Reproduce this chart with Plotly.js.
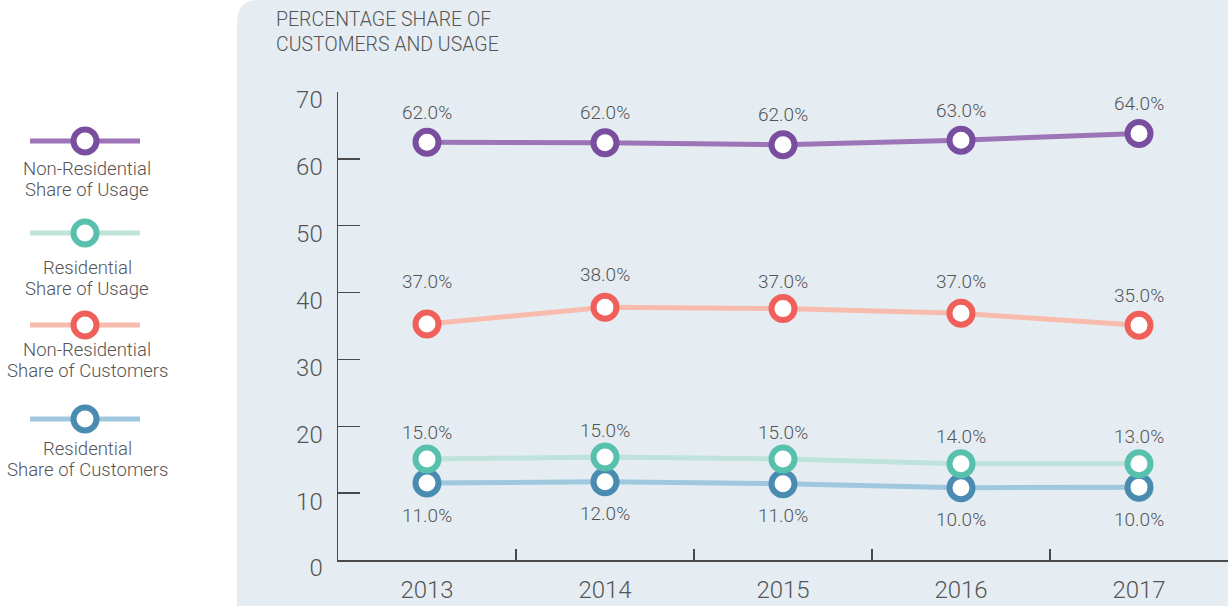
<!DOCTYPE html>
<html>
<head>
<meta charset="utf-8">
<script src="https://cdn.plot.ly/plotly-3.0.1.min.js"></script>
<style>
  html, body { margin: 0; padding: 0; background: #ffffff; }
  #chart { width: 1228px; height: 606px; }
</style>
</head>
<body>
<div id="chart"></div>
<script>
// ---------------- DATA ----------------
const years = ['2013', '2014', '2015', '2016', '2017'];

const nonResUsageName = ['Non-Residential', 'Share of Usage'];
const nonResUsage = [62.5, 62.4, 62.1, 62.8, 63.8];
const nonResUsageLabels = ['62.0%', '62.0%', '62.0%', '63.0%', '64.0%'];

const resUsageName = ['Residential', 'Share of Usage'];
const resUsage = [15.1, 15.4, 15.1, 14.4, 14.4];
const resUsageLabels = ['15.0%', '15.0%', '15.0%', '14.0%', '13.0%'];

const nonResCustName = ['Non-Residential', 'Share of Customers'];
const nonResCust = [35.3, 37.8, 37.6, 36.9, 35.1];
const nonResCustLabels = ['37.0%', '38.0%', '37.0%', '37.0%', '35.0%'];

const resCustName = ['Residential', 'Share of Customers'];
const resCust = [11.5, 11.7, 11.4, 10.8, 10.9];
const resCustLabels = ['11.0%', '12.0%', '11.0%', '10.0%', '10.0%'];

const yTicks = [0, 10, 20, 30, 40, 50, 60, 70];
const chartTitle = 'PERCENTAGE SHARE OF<br>CUSTOMERS AND USAGE';

// ---------------- STYLE ----------------
const FONT = 'Roboto, "Liberation Sans", Arial, sans-serif';
const TEXT = '#555555';
const AXIS = '#4a4a4a';
const W = 1228, H = 606;
const M = { l: 338, r: 0, t: 92, b: 46 };
const plotW = W - M.l - M.r, plotH = H - M.t - M.b;
const px2x = px => (px - M.l) / plotW;
const py2y = py => (H - M.b - py) / plotH;

const series = [
  { name: nonResUsageName, y: nonResUsage, labels: nonResUsageLabels, line: '#9d74b6', mark: '#7a4e9f', shift: 30, labelFromText: false, legendY: 141, legendTextY: 169 },
  { name: resUsageName, y: resUsage, labels: resUsageLabels, line: '#bfe3da', mark: '#58c1ad', shift: 27, labelFromText: false, legendY: 233, legendTextY: 268 },
  { name: nonResCustName, y: nonResCust, labels: nonResCustLabels, line: '#f8bcaf', mark: '#f0605a', shift: 31, labelFromText: true, legendY: 325, legendTextY: 350 },
  { name: resCustName, y: resCust, labels: resCustLabels, line: '#9fc7dd', mark: '#4a8bb1', shift: -32, labelFromText: false, legendY: 419, legendTextY: 449 }
];

// draw order: purple, red, blue, teal (teal sits over blue)
const drawOrder = [0, 2, 3, 1];

const traces = drawOrder.map(i => {
  const s = series[i];
  return {
    type: 'scatter',
    mode: 'lines+markers',
    x: years,
    y: s.y,
    name: s.name.join(' '),
    line: { color: s.line, width: 5 },
    marker: { size: 23, color: '#ffffff', line: { color: s.mark, width: 6 } },
    cliponaxis: false,
    hoverinfo: 'x+y+name'
  };
});

const annotations = [];
series.forEach(s => {
  years.forEach((yr, j) => {
    const yv = s.labelFromText ? parseFloat(s.labels[j]) : s.y[j];
    annotations.push({
      xref: 'x', yref: 'y', x: j, y: yv,   // category index of years[j]
      text: s.labels[j], showarrow: false,
      xanchor: 'center', yanchor: 'middle', yshift: s.shift,
      font: { family: FONT, size: 19, color: TEXT, weight: 300 }
    });
  });
});

// chart title
annotations.push({
  xref: 'paper', yref: 'paper', x: px2x(274), y: py2y(32),
  text: chartTitle, showarrow: false, align: 'left',
  xanchor: 'left', yanchor: 'middle',
  font: { family: FONT, size: 19.5, color: TEXT, weight: 300 }
});

// background panel with rounded top-left corner
const bx0 = px2x(237), bx1 = px2x(W + 2), byT = py2y(0), byB = py2y(H + 2);
const rx = 22 / plotW, ry = 22 / plotH;
const shapes = [{
  type: 'path', xref: 'paper', yref: 'paper', layer: 'below',
  path: `M ${bx0},${byB} L ${bx0},${byT - ry} Q ${bx0},${byT} ${bx0 + rx},${byT} L ${bx1},${byT} L ${bx1},${byB} Z`,
  fillcolor: '#e5edf3', line: { width: 0 }
}];

// custom legend (line sample, ring marker, centred text beneath)
series.forEach(s => {
  shapes.push({
    type: 'line', xref: 'paper', yref: 'paper',
    x0: px2x(30), x1: px2x(140), y0: py2y(s.legendY), y1: py2y(s.legendY),
    line: { color: s.line, width: 5 }
  });
  shapes.push({
    type: 'circle', xref: 'paper', yref: 'paper',
    xsizemode: 'pixel', ysizemode: 'pixel',
    xanchor: px2x(85), yanchor: py2y(s.legendY),
    x0: -11.5, x1: 11.5, y0: -11.5, y1: 11.5,
    fillcolor: '#ffffff', line: { color: s.mark, width: 6 }
  });
  s.name.forEach((ln, k) => {
    annotations.push({
      xref: 'paper', yref: 'paper', x: px2x(87), y: py2y(s.legendTextY + 21 * k),
      text: ln, showarrow: false, align: 'center',
      xanchor: 'center', yanchor: 'middle',
      font: { family: FONT, size: 18.5, color: TEXT, weight: 300 }
    });
  });
});

const layout = {
  width: W, height: H, autosize: false,
  margin: M,
  paper_bgcolor: '#ffffff',
  plot_bgcolor: 'rgba(0,0,0,0)',
  showlegend: false,
  xaxis: {
    type: 'category',
    categoryorder: 'array', categoryarray: years,
    range: [-0.5, 4.5],
    showline: true, linecolor: AXIS, linewidth: 1.5,
    showgrid: false, zeroline: false,
    ticks: 'inside', ticklen: 11, tickwidth: 1.5, tickcolor: AXIS,
    tickson: 'boundaries',
    ticklabelstandoff: 8,
    tickfont: { family: FONT, size: 24, color: TEXT, weight: 300 },
    fixedrange: true
  },
  yaxis: {
    range: [0, 70],
    tickvals: yTicks, ticktext: yTicks.map(String),
    showline: true, linecolor: AXIS, linewidth: 1.5,
    showgrid: false, zeroline: false,
    ticks: 'inside', ticklen: 22, tickwidth: 1.5, tickcolor: AXIS,
    ticklabelstandoff: 9,
    ticklabelshift: 8,
    tickfont: { family: FONT, size: 24, color: TEXT, weight: 300 },
    fixedrange: true
  },
  shapes: shapes,
  annotations: annotations
};

Plotly.newPlot('chart', traces, layout, { displayModeBar: false, staticPlot: true });
</script>
</body>
</html>
